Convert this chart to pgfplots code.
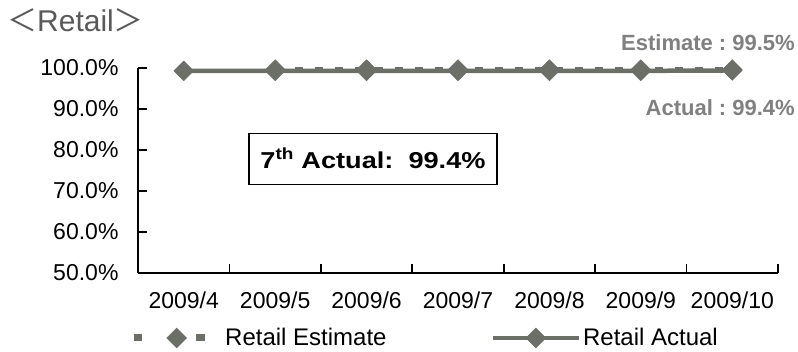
\documentclass[border=0pt]{standalone}
\usepackage{fontspec}
\setmainfont{Liberation Sans}
\newfontfamily\widefont[FakeStretch=1.18]{Liberation Sans}
\newfontfamily\cjk{Noto Sans CJK JP}
\usepackage{pgfplots}
\pgfplotsset{compat=1.18}
\definecolor{lineg}{RGB}{107,111,104}
\definecolor{notegray}{RGB}{128,128,128}
\definecolor{titlegray}{RGB}{89,89,89}

\pgfplotsset{
  est legend/.style={legend image code/.code={
    \draw[mark repeat=2, mark phase=2, ##1, line width=7pt,
          dash pattern=on 8pt off 54pt on 9pt off 20pt]
      plot coordinates {(0pt,0pt) (43pt,0pt) (86pt,0pt)};}},
  act legend/.style={legend image code/.code={
    \draw[mark repeat=2, mark phase=2, ##1]
      plot coordinates {(0pt,0pt) (43pt,0pt) (86pt,0pt)};}},
  diamond marks/.style={mark=square*, mark size=7pt,
    mark options={rotate=45, solid, fill=lineg, draw=lineg, line width=0.5pt}},
}

% monthly rates (%), x = month index 0..6 (2009/4 .. 2009/10)
\pgfplotstableread{
x y
1 99.6
2 99.6
3 99.6
4 99.6
5 99.6
6 99.6
}\estimate
\pgfplotstableread{
x y
0 99.3
1 99.3
2 99.3
3 99.3
4 99.3
5 99.3
6 99.4
}\actual

\begin{document}
\begin{tikzpicture}
\useasboundingbox (-138pt,-79pt) rectangle (660pt,273pt);
\begin{axis}[
  at={(0pt,0pt)}, anchor=south west,
  scale only axis, width=640pt, height=205pt,
  xmin=-0.5, xmax=6.5, ymin=50, ymax=100,
  clip=false,
  axis x line*=bottom, axis y line*=left,
  axis line style={line width=2pt, -},
  tick align=inside,
  major tick length=9pt,
  tick style={line width=1.6pt, black},
  xtick={-0.5,0.5,...,6.5}, xticklabels={},
  extra x ticks={0,1,2,3,4,5,6},
  extra x tick labels={2009/4,2009/5,2009/6,2009/7,2009/8,2009/9,2009/10},
  extra x tick style={major tick length=0pt, xticklabel style={yshift=-15pt}},
  ytick={50,60,...,100},
  yticklabel={\pgfmathprintnumber[fixed,fixed zerofill,precision=1]{\tick}\%},
  yticklabel style={xshift=-16pt},
  /pgf/number format/assume math mode=true,
  ticklabel style={font=\fontsize{23}{27}\selectfont},
  legend style={at={(-0.0125,-0.317)}, anchor=west, draw=none, fill=none,
    legend columns=2, font=\fontsize{24}{28}\selectfont, inner sep=0pt,
    nodes={inner xsep=2pt, inner ysep=0pt},
    /tikz/every even column/.append style={column sep=102pt}},
  legend cell align=left,
]
\addplot[lineg, line width=4.5pt, dash pattern=on 8pt off 12pt, diamond marks, est legend]
  table[x=x, y=y] {\estimate};
\addlegendentry{Retail Estimate}
\addplot[lineg, line width=4.5pt, diamond marks, act legend]
  table[x=x, y=y] {\actual};
\addlegendentry{Retail Actual}

\node[draw=black, line width=1.2pt, minimum width=248pt, minimum height=51pt,
  inner sep=0pt, font=\widefont\bfseries\fontsize{23}{27}\selectfont]
  at (axis cs:2.07,77.9) {7\textsuperscript{th} Actual:\ \ 99.4\%};
\end{axis}

\node[anchor=east, inner sep=0pt, text=notegray, font=\bfseries\fontsize{22}{26}\selectfont]
  at (657pt,230pt) {Estimate\;:\;99.5\%};
\node[anchor=east, inner sep=0pt, text=notegray, font=\bfseries\fontsize{22}{26}\selectfont]
  at (657pt,165pt) {Actual\;:\;99.4\%};
\node[anchor=west, inner sep=0pt, text=titlegray, font=\fontsize{30}{34}\selectfont]
  at (-131pt,253pt) {{\cjk ＜}Retail{\cjk ＞}};
\end{tikzpicture}
\end{document}
